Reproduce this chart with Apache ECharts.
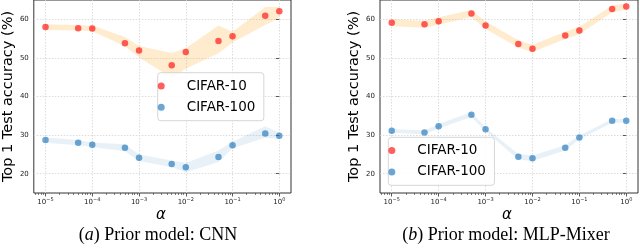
<!DOCTYPE html>
<html><head><meta charset="utf-8">
<script src="https://cdn.jsdelivr.net/npm/echarts@6/dist/echarts.min.js"></script>
<style>html,body{margin:0;padding:0;background:#fff}#c{width:640px;height:248px}</style>
</head><body><div id="c"></div>
<script>
const alphas = [1e-5,5e-5,1e-4,5e-4,1e-3,5e-3,1e-2,5e-2,1e-1,5e-1,1];
const cnnC10    = [58.0,57.7,57.6,53.8,51.9,48.1,51.5,54.4,55.6,60.9,62.1];
const cnnC10Hi  = [58.7,58.5,58.4,55.4,53.1,51.3,52.5,58.4,56.8,63.2,63.2];
const cnnC10Lo  = [57.2,57.1,56.9,53.0,50.2,44.8,47.2,51.2,54.0,58.5,60.4];
const cnnC100   = [28.7,28.0,27.5,26.7,24.1,22.5,21.7,24.3,27.4,30.4,29.8];
const cnnC100Hi = [29.4,28.7,28.1,27.6,25.0,23.4,22.8,26.0,28.3,32.3,30.6];
const cnnC100Lo = [28.0,27.4,26.9,25.8,23.3,21.7,20.4,23.0,26.6,29.3,29.0];
const mlpC10    = [59.1,58.7,59.5,61.5,58.4,53.6,52.4,55.8,57.1,62.7,63.3];
const mlpC10Hi  = [60.0,59.6,60.5,62.4,59.4,54.6,53.4,56.8,58.1,63.6,64.1];
const mlpC10Lo  = [58.2,57.8,58.6,60.6,57.5,52.7,51.5,54.9,56.1,61.8,62.5];
const mlpC100   = [31.1,30.7,32.3,35.3,31.5,24.4,24.0,26.7,29.4,33.7,33.7];
const mlpC100Hi = [31.6,31.2,32.9,35.9,32.0,25.1,24.7,27.4,29.9,34.2,34.2];
const mlpC100Lo = [30.6,30.2,31.7,34.7,31.0,23.7,23.3,26.0,28.9,33.2,33.2];
const yTicks = [20,30,40,50,60];
const xTickExps = [-5,-4,-3,-2,-1,0];
const seriesNames = ['CIFAR-10','CIFAR-100'];
const captions = ['({i|a}) Prior model: CNN','({i|b}) Prior model: MLP-Mixer'];
const yTitle = 'Top 1 Test accuracy (%)';

const X_MIN = -5.25, X_MAX = 0.25;
const minorTicks = [];
for (let k = -6; k <= 0; k++) for (let m = 2; m <= 9; m++) {
  const v = Math.log10(m) + k;
  if (v > X_MIN && v < X_MAX) minorTicks.push(v);
}
const RED = 'rgba(255,20,20,0.85)';
const BLUE = 'rgba(31,119,190,0.82)';
const ORANGE_BAND = 'rgba(255,170,30,0.22)';
const BLUE_BAND = 'rgba(31,119,180,0.10)';
const lx = alphas.map(a => Math.log10(a));

function band(ax, hi, lo, color) {
  return {
    type: 'custom', xAxisIndex: ax, yAxisIndex: ax, silent: true, z: 1,
    data: [[lx[0], hi[0]]],
    renderItem: (params, api) => {
      const pts = [];
      for (let i = 0; i < lx.length; i++) pts.push(api.coord([lx[i], hi[i]]));
      for (let i = lx.length - 1; i >= 0; i--) pts.push(api.coord([lx[i], lo[i]]));
      return { type: 'polygon', shape: { points: pts }, style: { fill: color } };
    }
  };
}
function pts(ax, name, vals, color) {
  return {
    type: 'scatter', name, xAxisIndex: ax, yAxisIndex: ax, z: 3,
    data: lx.map((x, i) => [x, vals[i]]), symbolSize: 6.5,
    itemStyle: { color }
  };
}
const sup = v => (v < 0 ? '\u2212' + (-v) : String(v));
function xMain(gi) {
  return {
    type: 'value', gridIndex: gi, min: X_MIN, max: X_MAX, position: 'bottom',
    axisLine: { show: false },
    axisTick: { show: true, customValues: xTickExps, length: 3.5, lineStyle: { color: '#333', width: 0.8 } },
    axisLabel: { customValues: xTickExps, margin: 4,
      formatter: v => '{b|10}{s|' + sup(v) + '}',
      rich: { b: { fontSize: 7, color: '#222', fontFamily: 'DejaVu Sans' },
              s: { fontSize: 5, color: '#222', fontFamily: 'DejaVu Sans', padding: [0, 0, 5, 0] } } },
    splitLine: { show: true, lineStyle: { color: '#d4d4d4', width: 0.8, type: [1.5, 1.5] } }
  };
}
function xMinor(gi) {
  return {
    type: 'value', gridIndex: gi, min: X_MIN, max: X_MAX, position: 'bottom',
    axisLine: { show: false },
    axisTick: { show: true, customValues: minorTicks, length: 2, lineStyle: { color: '#333', width: 0.6 } },
    axisLabel: { show: false }, splitLine: { show: false }
  };
}
function yMain(gi) {
  return {
    type: 'value', gridIndex: gi, min: 15, max: 65,
    axisLine: { show: false },
    axisTick: { show: true, customValues: yTicks, length: 3.5, lineStyle: { color: '#333', width: 0.8 } },
    axisLabel: { customValues: yTicks, fontSize: 7, color: '#222', fontFamily: 'DejaVu Sans', margin: 5 },
    splitLine: { show: true, lineStyle: { color: '#d4d4d4', width: 0.8, type: [1.5, 1.5] } },
    name: yTitle, nameLocation: 'middle', nameGap: 16,
    nameTextStyle: { fontSize: 14.5, fontFamily: 'DejaVu Sans', color: '#000' }
  };
}
function legend(left, top) {
  return {
    show: true, data: seriesNames, orient: 'vertical', left, top,
    padding: [6.3, 8.5, 6.4, 0], itemWidth: 41, itemHeight: 7, itemGap: 7.3,
    icon: 'circle', selectedMode: false,
    textStyle: { fontSize: 13.5, lineHeight: 14, fontFamily: 'DejaVu Sans', color: '#000', padding: 0 },
    backgroundColor: 'rgba(255,255,255,0.85)', borderColor: '#d6d6d6', borderWidth: 1, borderRadius: 3
  };
}
const chart = echarts.init(document.getElementById('c'), null, { renderer: 'canvas' });
chart.setOption({
  animation: false,
  backgroundColor: '#fff',
  grid: [
    { left: 32, top: 0, width: 259, height: 193, show: true, borderColor: '#333', borderWidth: 1, backgroundColor: 'transparent' },
    { left: 380, top: 0, width: 258, height: 193, show: true, borderColor: '#333', borderWidth: 1, backgroundColor: 'transparent' }
  ],
  xAxis: [xMain(0), xMain(1), xMinor(0), xMinor(1)],
  yAxis: [yMain(0), yMain(1)],
  legend: [legend(157.7, 72.7), legend(388.3, 137.3)],
  series: [
    band(0, cnnC10Hi, cnnC10Lo, ORANGE_BAND),
    band(0, cnnC100Hi, cnnC100Lo, BLUE_BAND),
    pts(0, seriesNames[0], cnnC10, RED),
    pts(0, seriesNames[1], cnnC100, BLUE),
    band(1, mlpC10Hi, mlpC10Lo, ORANGE_BAND),
    band(1, mlpC100Hi, mlpC100Lo, BLUE_BAND),
    pts(1, seriesNames[0], mlpC10, RED),
    pts(1, seriesNames[1], mlpC100, BLUE)
  ],
  graphic: [
    { type: 'text', x: 161, y: 215, style: { text: 'α', font: 'italic 15px "DejaVu Sans"', fill: '#000', align: 'center', verticalAlign: 'middle' } },
    { type: 'text', x: 507, y: 215, style: { text: 'α', font: 'italic 15px "DejaVu Sans"', fill: '#000', align: 'center', verticalAlign: 'middle' } },
    { type: 'text', x: 158, y: 235, style: { text: captions[0], font: '18px "Liberation Serif"', fill: '#000', align: 'center', verticalAlign: 'middle', rich: { i: { fontStyle: 'italic', fontSize: 18, fontFamily: 'Liberation Serif' } } } },
    { type: 'text', x: 506, y: 235, style: { text: captions[1], font: '18px "Liberation Serif"', fill: '#000', align: 'center', verticalAlign: 'middle', rich: { i: { fontStyle: 'italic', fontSize: 18, fontFamily: 'Liberation Serif' } } } }
  ]
});
</script></body></html>
